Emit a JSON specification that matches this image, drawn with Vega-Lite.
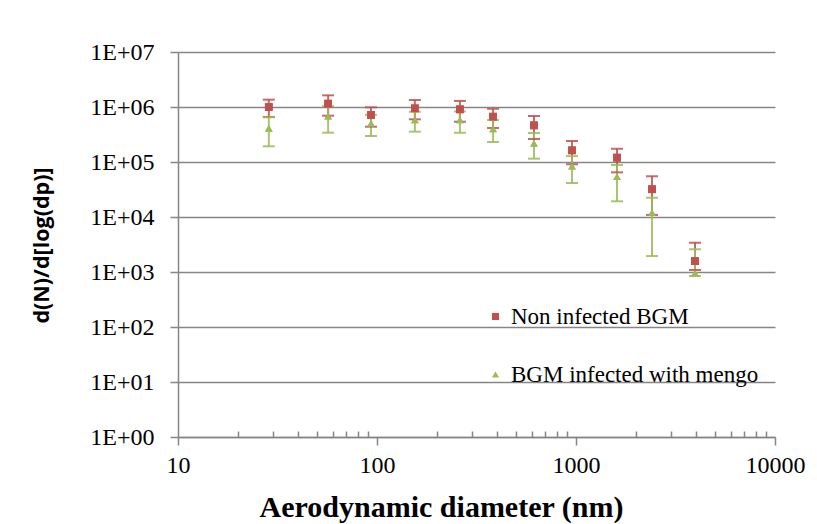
{
  "$schema": "https://vega.github.io/schema/vega-lite/v6.json",
  "width": 597,
  "height": 385,
  "autosize": {"type": "none"},
  "padding": {"left": 178, "top": 52, "right": 42, "bottom": 87},
  "background": "white",
  "config": {
    "view": {"stroke": null},
    "axis": {"labelFont": "Liberation Serif", "labelFontSize": 24, "labelColor": "black", "domainColor": "#868686", "tickColor": "#868686", "gridColor": "#868686", "domainWidth": 1.5, "tickWidth": 1.5, "gridWidth": 1.5},
    "legend": {"orient": "none", "legendX": 306, "legendY": 253, "title": null, "labelFont": "Liberation Serif", "labelFontSize": 23, "labelColor": "black", "labelLimit": 0, "symbolSize": 50, "rowPadding": 34, "labelOffset": 4, "symbolStrokeWidth": 0}
  },
  "data": {
    "values": [
      {"series": "Non infected BGM", "d": 28.6, "v": 1000000, "lo": 660000, "hi": 1360000},
      {"series": "Non infected BGM", "d": 56.8, "v": 1150000, "lo": 695000, "hi": 1630000},
      {"series": "Non infected BGM", "d": 93.3, "v": 716000, "lo": 438000, "hi": 987000},
      {"series": "Non infected BGM", "d": 155, "v": 946000, "lo": 597000, "hi": 1340000},
      {"series": "Non infected BGM", "d": 261, "v": 907000, "lo": 540000, "hi": 1290000},
      {"series": "Non infected BGM", "d": 383, "v": 667000, "lo": 415000, "hi": 930000},
      {"series": "Non infected BGM", "d": 615, "v": 464000, "lo": 262000, "hi": 686000},
      {"series": "Non infected BGM", "d": 955, "v": 163000, "lo": 91000, "hi": 241000},
      {"series": "Non infected BGM", "d": 1607, "v": 120000, "lo": 64800, "hi": 174000},
      {"series": "Non infected BGM", "d": 2410, "v": 32000, "lo": 10900, "hi": 55000},
      {"series": "Non infected BGM", "d": 3963, "v": 1580, "lo": 1090, "hi": 3400},
      {"series": "BGM infected with mengo", "d": 28.6, "v": 409000, "lo": 193000, "hi": 650000},
      {"series": "BGM infected with mengo", "d": 56.8, "v": 685000, "lo": 341000, "hi": 1040000},
      {"series": "BGM infected with mengo", "d": 93.3, "v": 505000, "lo": 297000, "hi": 720000},
      {"series": "BGM infected with mengo", "d": 155, "v": 580000, "lo": 356000, "hi": 820000},
      {"series": "BGM infected with mengo", "d": 261, "v": 580000, "lo": 340000, "hi": 830000},
      {"series": "BGM infected with mengo", "d": 383, "v": 398000, "lo": 231000, "hi": 580000},
      {"series": "BGM infected with mengo", "d": 615, "v": 219000, "lo": 115000, "hi": 337000},
      {"series": "BGM infected with mengo", "d": 955, "v": 84500, "lo": 41500, "hi": 128000},
      {"series": "BGM infected with mengo", "d": 1607, "v": 54000, "lo": 19300, "hi": 88000},
      {"series": "BGM infected with mengo", "d": 2410, "v": 12000, "lo": 1950, "hi": 22400},
      {"series": "BGM infected with mengo", "d": 3963, "v": 950, "lo": 850, "hi": 2600}
    ]
  },
  "resolve": {"axis": {"x": "independent"}},
  "layer": [
    {
      "mark": {"type": "point", "filled": true, "opacity": 1},
      "encoding": {
        "x": {"field": "d", "type": "quantitative", "scale": {"type": "log", "domain": [10, 10000]},
          "axis": {"orient": "bottom", "values": [10, 100, 1000, 10000], "format": "d", "grid": false, "tickSize": 8, "labelPadding": 8, "labelFlush": false, "labelOverlap": false,
            "title": "Aerodynamic  diameter (nm)", "titleFont": "Liberation Serif", "titleFontSize": 30, "titleFontWeight": "bold", "titleColor": "black", "titleX": 263, "titleY": 79, "titleBaseline": "alphabetic", "titleAlign": "center"}},
        "y": {"field": "v", "type": "quantitative", "scale": {"type": "log", "domain": [1, 10000000]},
          "axis": {"values": [1, 10, 100, 1000, 10000, 100000, 1000000, 10000000], "labelExpr": "'1E+0' + round(log(datum.value) / LN10)", "grid": true, "tickSize": 8, "labelPadding": 16,
            "title": "d(N)/d[log(dp)]", "titleFont": "Open Sans", "titleFontSize": 21.5, "titleFontWeight": "bold", "titleColor": "black", "titleX": -136, "titleY": 193, "titleAngle": -90, "titleAlign": "center", "titleBaseline": "middle"}},
        "color": {"field": "series", "type": "nominal", "scale": {"domain": ["Non infected BGM", "BGM infected with mengo"], "range": ["#C0504D", "#9BBB59"]}},
        "shape": {"field": "series", "type": "nominal", "scale": {"domain": ["Non infected BGM", "BGM infected with mengo"], "range": ["square", "triangle-up"]}},
        "size": {"value": 60}
      }
    },
    {
      "mark": {"type": "rule", "strokeWidth": 2, "opacity": 0.85},
      "encoding": {
        "x": {"field": "d", "type": "quantitative", "axis": null},
        "y": {"field": "lo", "type": "quantitative"},
        "y2": {"field": "hi"},
        "color": {"field": "series", "type": "nominal"}
      }
    },
    {
      "mark": {"type": "tick", "orient": "horizontal", "size": 12, "thickness": 2, "opacity": 0.85},
      "encoding": {
        "x": {"field": "d", "type": "quantitative",
          "axis": {"orient": "bottom", "values": [20, 30, 40, 50, 60, 70, 80, 90, 200, 300, 400, 500, 600, 700, 800, 900, 2000, 3000, 4000, 5000, 6000, 7000, 8000, 9000], "labels": false, "domain": false, "grid": false, "tickSize": -6, "title": null}},
        "y": {"field": "lo", "type": "quantitative"},
        "color": {"field": "series", "type": "nominal"}
      }
    },
    {
      "mark": {"type": "tick", "orient": "horizontal", "size": 12, "thickness": 2, "opacity": 0.85},
      "encoding": {
        "x": {"field": "d", "type": "quantitative", "axis": null},
        "y": {"field": "hi", "type": "quantitative"},
        "color": {"field": "series", "type": "nominal"}
      }
    },
    {
      "mark": {"type": "point", "filled": true, "opacity": 1},
      "encoding": {
        "x": {"field": "d", "type": "quantitative", "axis": null},
        "y": {"field": "v", "type": "quantitative"},
        "color": {"field": "series", "type": "nominal"},
        "shape": {"field": "series", "type": "nominal"},
        "size": {"value": 60}
      }
    }
  ]
}
